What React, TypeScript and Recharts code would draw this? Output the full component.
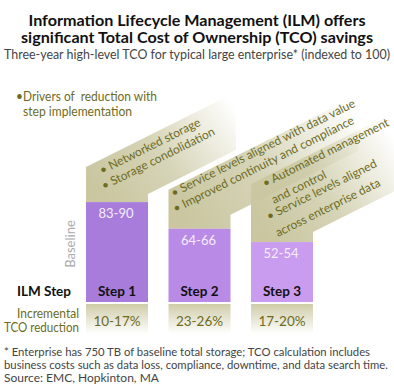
import React from 'react';
import { BarChart, Bar, XAxis, YAxis } from 'recharts';

const steps = ['Step 1', 'Step 2', 'Step 3'];
const tcoIndex = [90, 66, 54];
const tcoRange = ['83-90', '64-66', '52-54'];
const reductions = ['10-17%', '23-26%', '17-20%'];
const drivers = [
  ['• Networked storage', '• Storage condolidation'],
  ['• Service levels aligned with data value', '• Improved continuity and compliance'],
  ['• Automated management', 'and control', '• Service levels aligned', 'across enterprise data'],
];

const data = steps.map((step, i) => ({
  step,
  tco: tcoIndex[i],
  range: tcoRange[i],
  reduction: reductions[i],
  drivers: drivers[i],
}));

const FONT = 'Lato, "Open Sans", sans-serif';
const OLIVE = '#6d6b1e';
const BANNER = '#c9c6a0';
const barColors = ['#a87cdb', '#ba8ae7', '#c99cf0'];
const SLOPE = 0.5;
const ANGLE = -26.5;

// banner shape: vertical stub on top of the bar + a fading diagonal strip
const bannerRise = [35, 39, 58];
const bannerRightRise = [8, 14, 10];
const bannerLength = [150, 190, 150];
const textDrop = [12, 16, 5];
const textIndent = [16, 5, 14];
const textSpacing = [15.5, 15.5, 16.5];

const StepBar = (props: any) => {
  const { x, y, width, height, index, payload } = props;
  const rise = bannerRise[index];
  const rr = bannerRightRise[index];
  const len = bannerLength[index];
  const pts = [
    [x, y],
    [x, y - rise],
    [x + len, y - rise - len * SLOPE],
    [x + len, y - rr - (len - width) * SLOPE],
    [x + width, y - rr],
    [x + width, y],
  ]
    .map((p) => p.join(','))
    .join(' ');
  const gid = `banner-${index}`;
  const bid = `box-${index}`;
  const bottom = y + height;
  const lines: string[] = payload.drivers;
  const n = lines.length;
  return (
    <g>
      <defs>
        <linearGradient id={gid} gradientUnits="userSpaceOnUse" x1={x + 20} y1={y} x2={x + len} y2={y - len * SLOPE - 20}>
          <stop offset="0" stopColor={BANNER} stopOpacity={1} />
          <stop offset="0.45" stopColor={BANNER} stopOpacity={0.75} />
          <stop offset="1" stopColor={BANNER} stopOpacity={0} />
        </linearGradient>
        <linearGradient id={bid} x1="0" y1="0" x2="0" y2="1">
          <stop offset="0" stopColor="#cfcca8" />
          <stop offset="1" stopColor="#ffffff" />
        </linearGradient>
      </defs>
      <polygon points={pts} fill={`url(#${gid})`} />
      {lines.map((t, i) => {
        const tx = x + textIndent[index] + i * 2 + (t.startsWith('•') ? 0 : 7);
        const ty = y - textDrop[index] - (n - 1 - i) * textSpacing[index];
        return (
          <text
            key={i}
            x={tx}
            y={ty}
            transform={`rotate(${ANGLE}, ${tx}, ${ty})`}
            fontFamily={FONT}
            fontSize={12}
            fill={OLIVE}
          >
            {t}
          </text>
        );
      })}
      <rect x={x} y={y} width={width} height={height} fill={barColors[index]} />
      <text x={x + width / 2 - 1} y={y + 16} textAnchor="middle" fontFamily={FONT} fontSize={13} fill="#f4eeff">
        {payload.range}
      </text>
      <text x={x + width / 2} y={bottom - 6} textAnchor="middle" fontFamily={FONT} fontSize={13.5} fontWeight="bold" fill="#111">
        {payload.step}
      </text>
      <rect x={x} y={bottom + 2} width={width} height={30} fill={`url(#${bid})`} />
      <text x={x + width / 2} y={bottom + 24} textAnchor="middle" fontFamily={FONT} fontSize={13.5} fill={OLIVE}>
        {payload.reduction}
      </text>
    </g>
  );
};

const AxisTick = (props: any) => {
  const { x, y, payload } = props;
  return (
    <g>
      <line x1={x - 4} x2={x + 4} y1={y} y2={y} stroke="#999" />
      {payload.value === 100 && (
        <text x={x - 6} y={y + 4} textAnchor="end" fontFamily={FONT} fontSize={12.5} fill="#888">
          100
        </text>
      )}
    </g>
  );
};

export default function App() {
  return (
    <div style={{ position: 'absolute', left: 0, top: 0, width: 394, height: 391, background: '#fff' }}>
      <BarChart width={394} height={391} data={data} margin={{ top: 191, right: 70.5, bottom: 89, left: 78 }}>
        <XAxis dataKey="step" hide padding={{ left: -2, right: 0 }} />
        <YAxis
          domain={[0, 100]}
          ticks={[0, 100]}
          width={0}
          tickSize={0}
          tickMargin={0}
          axisLine={{ stroke: '#999' }}
          tick={<AxisTick />}
        />
        <Bar dataKey="tco" barSize={62} shape={<StepBar />} isAnimationActive={false} />
      </BarChart>
      <svg width={394} height={391} style={{ position: 'absolute', left: 0, top: 0, pointerEvents: 'none' }}>
        <g fontFamily={FONT}>
          <text x={197} y={26} textAnchor="middle" fontSize={15.5} fontWeight="bold" fill="#111" textLength={337} lengthAdjust="spacingAndGlyphs">
            Information Lifecycle Management (ILM) offers
          </text>
          <text x={197} y={43} textAnchor="middle" fontSize={15.5} fontWeight="bold" fill="#111" textLength={352} lengthAdjust="spacingAndGlyphs">
            significant Total Cost of Ownership (TCO) savings
          </text>
          <text x={197} y={59} textAnchor="middle" fontSize={13} fill="#444" textLength={386} lengthAdjust="spacingAndGlyphs">
            Three-year high-level TCO for typical large enterprise* (indexed to 100)
          </text>
          <text x={16} y={101} fontSize={13} fill={OLIVE} textLength={141} lengthAdjust="spacingAndGlyphs" style={{ whiteSpace: 'pre' }}>
            •Drivers of  reduction with
          </text>
          <text x={23} y={116} fontSize={13} fill={OLIVE} textLength={109} lengthAdjust="spacingAndGlyphs">
            step implementation
          </text>
          <text x={75} y={244} transform="rotate(-90, 75, 244)" textAnchor="middle" fontSize={13} fill="#aaa">
            Baseline
          </text>
          <text x={71} y={296} textAnchor="end" fontSize={13.5} fontWeight="bold" fill="#111">
            ILM Step
          </text>
          <text x={79} y={318} textAnchor="end" fontSize={12.5} fill={OLIVE} textLength={62} lengthAdjust="spacingAndGlyphs">
            Incremental
          </text>
          <text x={79} y={332} textAnchor="end" fontSize={12.5} fill={OLIVE} textLength={75} lengthAdjust="spacingAndGlyphs">
            TCO reduction
          </text>
          <text x={4} y={356} fontSize={12} fill="#444" textLength={366} lengthAdjust="spacingAndGlyphs">
            * Enterprise has 750 TB of baseline total storage; TCO calculation includes
          </text>
          <text x={4} y={369} fontSize={12} fill="#444" textLength={384} lengthAdjust="spacingAndGlyphs">
            business costs such as data loss, compliance, downtime, and data search time.
          </text>
          <text x={4} y={382} fontSize={12} fill="#444">
            Source: EMC, Hopkinton, MA
          </text>
        </g>
      </svg>
    </div>
  );
}
